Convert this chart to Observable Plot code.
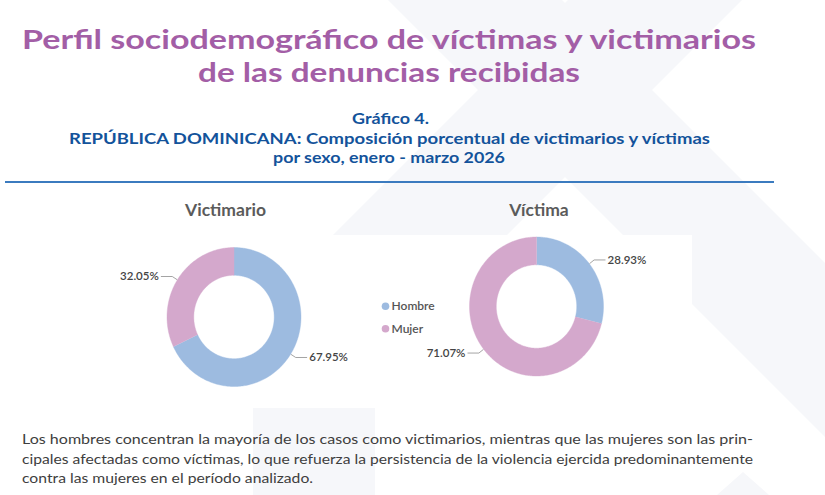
<!DOCTYPE html>
<html>
<head>
<meta charset="utf-8">
<script src="https://cdn.jsdelivr.net/npm/d3@7"></script>
<script src="https://cdn.jsdelivr.net/npm/@observablehq/plot@0.6"></script>
<style>
html, body { margin: 0; padding: 0; background: #fff; }
#page { position: relative; width: 825px; height: 495px; overflow: hidden; font-family: Lato, "Noto Sans", sans-serif; }
#bg { position: absolute; left: 0; top: 0; }
.t { position: absolute; white-space: nowrap; line-height: 1; transform-origin: 0 0; margin: 0; }
.title { font-size: 27.4px; font-weight: 700; color: #a35ea6; line-height: 1; }
.sub { font-size: 15.5px; font-weight: 700; color: #13539b; line-height: 1; }
.para { font-size: 14px; font-weight: 400; color: #3e3e3e; line-height: 1; }
#rule { position: absolute; left: 5px; top: 181px; width: 769px; height: 1.6px; background: #3b7bbf; }
#chart { position: absolute; left: 0; top: 190px; }
</style>
</head>
<body>
<div id="page">
  <svg id="bg" width="825" height="495">
    <defs><clipPath id="clipB"><rect x="0" y="0" width="825" height="408"/></clipPath></defs>
    <line x1="165" y1="-310" x2="1065" y2="590" stroke="#f6f7fa" stroke-width="123"/>
    <line x1="965" y1="-310" x2="165" y2="490" stroke="#f6f7fa" stroke-width="123" clip-path="url(#clipB)"/>
    <rect x="253" y="408" width="122" height="87" fill="#f6f7fa"/>
    <polygon points="743,472 717,495 769,495" fill="#f6f7fa"/>
    <rect x="0" y="235" width="692" height="173" fill="#ffffff"/>
  </svg>
  <div id="rule"></div>
  <div id="chart"></div>
</div>
<script>
// ---- Data ----
const groups = ["Victimario", "Víctima"];
const sexes = ["Hombre", "Mujer"];
const victimario = [67.95, 32.05];
const victima = [28.93, 71.07];
const colors = ["#9dbbe0", "#d4a8cc"];

const titleLines = ["Perfil sociodemográfico de víctimas y victimarios", "de las denuncias recibidas"];
const subLines = ["Gráfico 4.", "REPÚBLICA DOMINICANA: Composición porcentual de victimarios y víctimas", "por sexo, enero - marzo 2026"];
const paraLines = [
  "Los hombres concentran la mayoría de los casos como victimarios, mientras que las mujeres son las prin-",
  "cipales afectadas como víctimas, lo que refuerza la persistencia de la violencia ejercida predominantemente",
  "contra las mujeres en el período analizado."
];

// ---- Layout (pixels) ----
const titleLayout = [{left: 22, width: 734, base: 49}, {left: 198, width: 382, base: 82.2}];
const subLayout = [{left: 352, width: 77, base: 124}, {left: 69, width: 641, base: 144}, {left: 273, width: 232, base: 163.3}];
const paraLayout = [{left: 22, width: 731, base: 444}, {left: 22, width: 731, base: 464}, {left: 22, width: 291, base: 483}];

const page = document.getElementById("page");
function placeLine(text, cls, L) {
  const el = document.createElement("div");
  el.className = "t " + cls;
  el.textContent = text;
  page.appendChild(el);
  const probe = document.createElement("span");
  probe.style.cssText = "display:inline-block;width:0;height:0;vertical-align:baseline;";
  el.appendChild(probe);
  const r = el.getBoundingClientRect();
  const off = probe.getBoundingClientRect().top - r.top;
  const w = r.width;
  el.style.left = L.left + "px";
  el.style.top = (L.base - off) + "px";
  el.style.transform = `scaleX(${L.width / w})`;
}
titleLines.forEach((t, i) => placeLine(t, "title", titleLayout[i]));
subLines.forEach((t, i) => placeLine(t, "sub", subLayout[i]));
paraLines.forEach((t, i) => placeLine(t, "para", paraLayout[i]));

// ---- Donuts ----
const W = 825, H = 220, TOP = 190;
const centers = [{cx: 233.5, cy: 316.5}, {cx: 536, cy: 306}];
const headX = [225, 538.5];
const RX = 67, RY = 69.5, INNER = 0.6;
const series = [victimario, victima];

const ring = [], leaders = [], labels = [];
groups.forEach((g, gi) => {
  const {cx, cy} = centers[gi];
  const vals = series[gi];
  const total = d3.sum(vals);
  let acc = 0;
  sexes.forEach((s, si) => {
    const f0 = acc / total, f1 = (acc + vals[si]) / total;
    acc += vals[si];
    const key = g + "|" + s;
    const n = Math.max(2, Math.ceil((f1 - f0) * 360));
    const pts = [];
    for (let i = 0; i <= n; i++) pts.push([2 * Math.PI * (f0 + (f1 - f0) * i / n), 1]);
    for (let i = n; i >= 0; i--) pts.push([2 * Math.PI * (f0 + (f1 - f0) * i / n), INNER]);
    pts.forEach(([a, r]) => ring.push({key, sex: s, x: cx + RX * r * Math.sin(a), y: cy - RY * r * Math.cos(a)}));
    const am = 2 * Math.PI * (f0 + f1) / 2;
    const side = Math.sin(am) >= 0 ? 1 : -1;
    const p0 = {x: cx + RX * 1.01 * Math.sin(am), y: cy - RY * 1.01 * Math.cos(am)};
    const p1 = {x: cx + RX * 1.09 * Math.sin(am), y: cy - RY * 1.09 * Math.cos(am)};
    const p2 = {x: p1.x + side * 11, y: p1.y};
    [p0, p1, p2].forEach(p => leaders.push({key, x: p.x, y: p.y}));
    labels.push({side, x: p2.x + side * 2.5, y: p2.y, text: vals[si].toFixed(2) + "%"});
  });
});
const heads = groups.map((g, i) => ({g, x: headX[i], y: 215}));
const legend = sexes.map((s, i) => ({sex: s, x: 385, y: 305.7 + i * 22.6}));

const chart = Plot.plot({
  width: W, height: H,
  margin: 0,
  x: {domain: [0, W], range: [0, W], axis: null},
  y: {domain: [TOP, TOP + H], range: [0, H], axis: null},
  color: {domain: sexes, range: colors},
  style: {background: "transparent", fontFamily: "Lato, 'Noto Sans', sans-serif", overflow: "visible"},
  marks: [
    Plot.line(ring, {x: "x", y: "y", z: "key", fill: "sex", stroke: "sex", strokeWidth: 0.4, curve: "linear"}),
    Plot.line(leaders, {x: "x", y: "y", z: "key", stroke: "#9a9a9a", strokeWidth: 0.9}),
    Plot.text(labels.filter(d => d.side > 0), {x: "x", y: "y", text: "text", textAnchor: "start", fontSize: 11.5, fontWeight: 600, fill: "#444"}),
    Plot.text(labels.filter(d => d.side < 0), {x: "x", y: "y", text: "text", textAnchor: "end", fontSize: 11.5, fontWeight: 600, fill: "#444"}),
    Plot.text(heads, {x: "x", y: "y", text: "g", lineAnchor: "bottom", fontSize: 17.5, fontWeight: 700, fill: "#5b5b5b"}),
    Plot.dot(legend, {x: "x", y: "y", fill: "sex", r: 3.8}),
    Plot.text(legend, {x: "x", y: "y", text: "sex", dx: 6, textAnchor: "start", fontSize: 12, fontWeight: 600, fill: "#555"})
  ]
});
document.getElementById("chart").appendChild(chart);
</script>
</body>
</html>
